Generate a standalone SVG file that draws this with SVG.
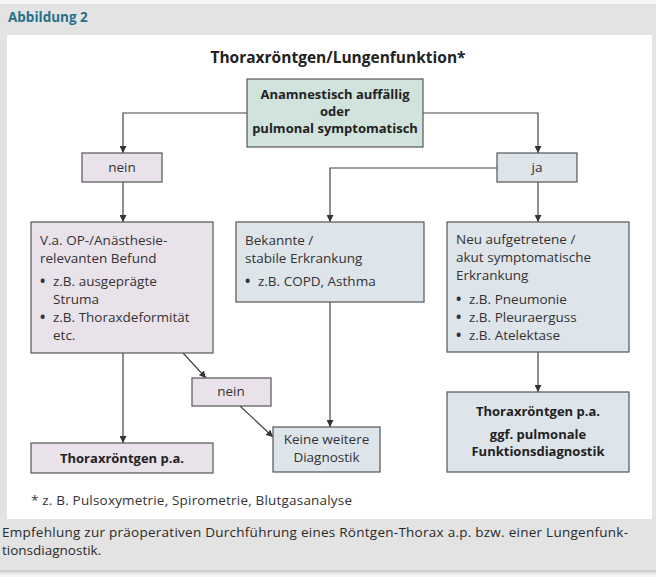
<svg xmlns="http://www.w3.org/2000/svg" width="656" height="577" viewBox="0 0 656 577">
  <defs>
    <marker id="arrow" viewBox="0 0 10 10" refX="10" refY="5" markerWidth="7" markerHeight="7" markerUnits="userSpaceOnUse" orient="auto">
      <path d="M0,0 L10,5 L0,10 Z" fill="#333"/>
    </marker>
    <linearGradient id="shadow" x1="0" y1="0" x2="0" y2="1">
      <stop offset="0" stop-color="#c9c9c9"/>
      <stop offset="1" stop-color="#f4f4f4"/>
    </linearGradient>
  </defs>
  <style>
    .txt { font-family: "Open Sans", Lato, "Liberation Sans", sans-serif; font-size: 13.5px; fill: #333; }
    .b { font-weight: bold; fill: #222; font-size: 13px; }
    .c { text-anchor: middle; }
    .dot { font-weight: bold; font-size: 14px; }
    .box { stroke: #555; stroke-width: 1.2; }
    .green { fill: #d0e3dc; }
    .lav { fill: #e9e2ea; }
    .blue { fill: #dde4ea; }
    .conn path { fill: none; stroke: #444; stroke-width: 1.2; marker-end: url(#arrow); }
  </style>

  <!-- page frame -->
  <rect x="0" y="0" width="656" height="577" fill="#f6f6f6"/>
  <rect x="0" y="570" width="656" height="5" fill="url(#shadow)"/>
  <rect x="0" y="4" width="656" height="566" fill="#e3e3e3"/>
  <rect x="7" y="35" width="645" height="484" fill="#ffffff"/>

  <text x="8" y="22" style="font-family: 'Open Sans', Lato, 'Liberation Sans', sans-serif; font-size: 13.5px; font-weight: bold; fill: #2a6f8c;">Abbildung 2</text>

  <text x="338" y="63" class="txt b c" style="font-size: 15.5px;">Thoraxröntgen/Lungenfunktion*</text>

  <!-- connectors -->
  <g id="connectors" class="conn">
    <path d="M247,113 H123 V153"/>
    <path d="M423,113 H538 V153"/>
    <path d="M123,182 V222"/>
    <path d="M497,168 H330 V222"/>
    <path d="M538,182 V222"/>
    <path d="M123,353 V443"/>
    <path d="M183,353 L206,378"/>
    <path d="M240,406 L273,437"/>
    <path d="M330,302 V427"/>
    <path d="M538,352 V392"/>
  </g>

  <g id="start">
    <rect class="box green" x="247" y="79" width="176" height="68"/>
    <text class="txt b c" x="335" y="99">Anamnestisch auffällig</text>
    <text class="txt b c" x="335" y="116">oder</text>
    <text class="txt b c" x="335" y="133">pulmonal symptomatisch</text>
  </g>

  <g id="nein1">
    <rect class="box lav" x="82" y="153" width="80" height="29"/>
    <text class="txt c" x="122" y="172">nein</text>
  </g>

  <g id="ja">
    <rect class="box blue" x="497" y="153" width="80" height="29"/>
    <text class="txt c" x="537" y="172">ja</text>
  </g>

  <g id="befund">
    <rect class="box lav" x="31" y="222" width="182" height="131"/>
    <text class="txt" x="40" y="245">V.a. OP-/Anästhesie-</text>
    <text class="txt" x="40" y="263">relevanten Befund</text>
    <text class="txt dot" x="40" y="286">•</text>
    <text class="txt" x="53" y="286">z.B. ausgeprägte</text>
    <text class="txt" x="53" y="304">Struma</text>
    <text class="txt dot" x="40" y="322">•</text>
    <text class="txt" x="53" y="322">z.B. Thoraxdeformität</text>
    <text class="txt" x="53" y="340">etc.</text>
  </g>

  <g id="bekannt">
    <rect class="box blue" x="236" y="222" width="188" height="80"/>
    <text class="txt" x="245" y="245">Bekannte /</text>
    <text class="txt" x="245" y="263">stabile Erkrankung</text>
    <text class="txt dot" x="245" y="286">•</text>
    <text class="txt" x="258" y="286">z.B. COPD, Asthma</text>
  </g>

  <g id="neu">
    <rect class="box blue" x="447" y="222" width="182" height="130"/>
    <text class="txt" x="456" y="244">Neu aufgetretene /</text>
    <text class="txt" x="456" y="262">akut symptomatische</text>
    <text class="txt" x="456" y="280">Erkrankung</text>
    <text class="txt dot" x="456" y="304">•</text>
    <text class="txt" x="469" y="304">z.B. Pneumonie</text>
    <text class="txt dot" x="456" y="322">•</text>
    <text class="txt" x="469" y="322">z.B. Pleuraerguss</text>
    <text class="txt dot" x="456" y="340">•</text>
    <text class="txt" x="469" y="340">z.B. Atelektase</text>
  </g>

  <g id="nein2">
    <rect class="box lav" x="192" y="378" width="79" height="28"/>
    <text class="txt c" x="231" y="396">nein</text>
  </g>

  <g id="roentgen-links">
    <rect class="box lav" x="31" y="443" width="182" height="30"/>
    <text class="txt b c" x="122" y="463">Thoraxröntgen p.a.</text>
  </g>

  <g id="keine">
    <rect class="box blue" x="273" y="427" width="107" height="45"/>
    <text class="txt c" x="326.5" y="444">Keine weitere</text>
    <text class="txt c" x="326.5" y="462">Diagnostik</text>
  </g>

  <g id="roentgen-rechts">
    <rect class="box blue" x="447" y="392" width="182" height="80"/>
    <text class="txt b c" x="538" y="416">Thoraxröntgen p.a.</text>
    <text class="txt b c" x="538" y="439">ggf. pulmonale</text>
    <text class="txt b c" x="538" y="456">Funktionsdiagnostik</text>
  </g>

  <text class="txt" x="31" y="505" textLength="321" lengthAdjust="spacing">* z. B. Pulsoxymetrie, Spirometrie, Blutgasanalyse</text>

  <text class="txt" x="2" y="537" style="fill: #2a2a2a;" textLength="626" lengthAdjust="spacing">Empfehlung zur präoperativen Durchführung eines Röntgen-Thorax a.p. bzw. einer Lungenfunk-</text>
  <text class="txt" x="2" y="555" style="fill: #2a2a2a;">tionsdiagnostik.</text>
</svg>
